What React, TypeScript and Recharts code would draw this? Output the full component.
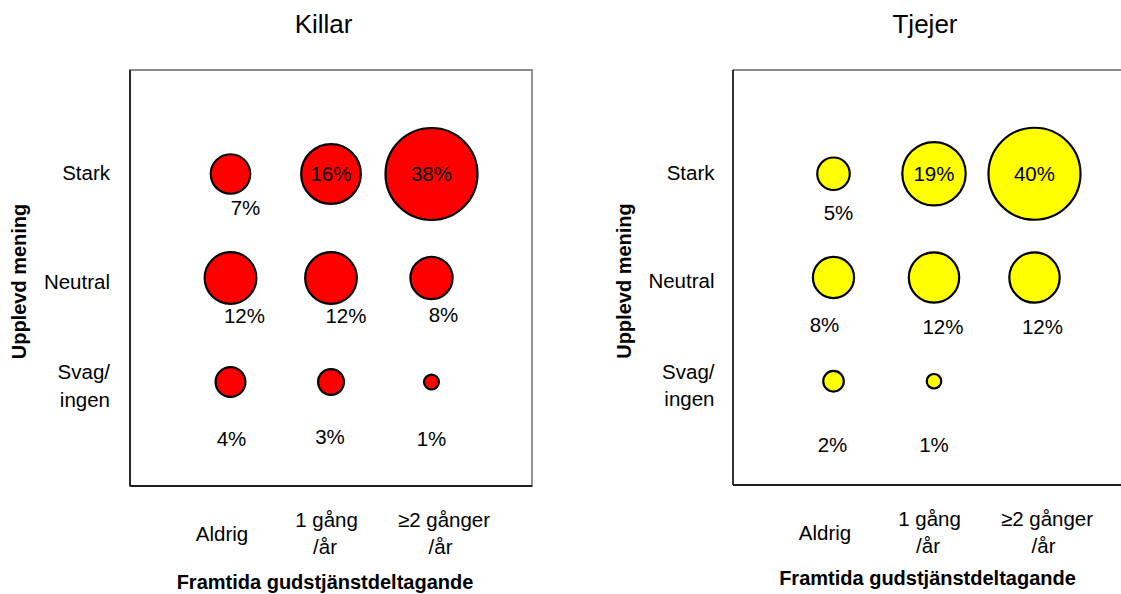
import React from 'react';
import { ScatterChart, Scatter, XAxis, YAxis, ZAxis, ReferenceArea, ReferenceLine } from 'recharts';

const FONT = '"Liberation Sans", Arial, Helvetica, sans-serif';

// Categories
const columns = ['Aldrig', '1 gång /år', '≥2 gånger /år'];
const rowNames = ['Svag/ingen', 'Neutral', 'Stark'];
const xTickLines = [['Aldrig'], ['1 gång', '/år'], ['≥2 gånger', '/år']];
const yTickLines = [['Svag/', 'ingen'], ['Neutral'], ['Stark']];

// Killar (%), per row, columns: Aldrig, 1 gång/år, ≥2 gånger/år
const killarStark = [7, 16, 38];
const killarNeutral = [12, 12, 8];
const killarSvag = [4, 3, 1];

// Tjejer (%)
const tjejerStark = [5, 19, 40];
const tjejerNeutral = [8, 12, 12];
const tjejerSvag = [2, 1, 0];

// Titles
const panelTitles = ['Killar', 'Tjejer'];
const yTitle = 'Upplevd mening';
const xTitle = 'Framtida gudstjänstdeltagande';

// label styling (offsets of the % text from the bubble centre), rows: Svag, Neutral, Stark
const killarLabelOffsets = [
  [[1, 57], [-1, 55], [0, 57]],
  [[14, 38], [15, 38], [12, 37]],
  [[15, 34], [0, 0], [0, 0]],
];
const tjejerLabelOffsets = [
  [[-1, 63], [0, 63], [0, 0]],
  [[-9, 47], [9, 49], [8, 49]],
  [[5, 39], [0, 0], [0, 0]],
];

function buildData(svag: number[], neutral: number[], stark: number[]) {
  const rowsV = [svag, neutral, stark];
  const out: any[] = [];
  rowsV.forEach((vals, r) =>
    vals.forEach((v, c) => {
      if (v > 0) out.push({ x: c + 1, y: r + 1, z: v, row: r, col: c, rowName: rowNames[r], colName: columns[c] });
    })
  );
  return out;
}

const killarData = buildData(killarSvag, killarNeutral, killarStark);
const tjejerData = buildData(tjejerSvag, tjejerNeutral, tjejerStark);

const LABEL_SIZE = 20.5;
const TICK_SIZE = 20.5;

const makeShape = (fill: string, offsets: number[][][]) => (props: any) => {
  const { cx, cy, width, size, payload } = props;
  const r = Number.isFinite(width) ? width / 2 : Math.sqrt((size || 0) / Math.PI);
  const [dx, dy] = offsets[payload.row][payload.col];
  return (
    <g>
      <circle cx={cx} cy={cy} r={r} fill={fill} stroke="#000" strokeWidth={2.2} />
      <text
        x={cx + dx}
        y={cy + dy + LABEL_SIZE * 0.358}
        textAnchor="middle"
        fontSize={LABEL_SIZE}
        fontFamily={FONT}
        fill="#000"
      >
        {payload.z}%
      </text>
    </g>
  );
};

const xTickDx = [[-8.5], [-4.5, -6], [12.5, 9]];
const renderXTick = (props: any) => {
  const { x, y, payload } = props;
  const i = Math.round(payload.value) - 1;
  const lines = xTickLines[i] || [];
  const single = lines.length === 1;
  return (
    <g>
      {lines.map((t, k) => (
        <text
          key={k}
          x={x + xTickDx[i][k]}
          y={y + (single ? 54.5 : k === 0 ? 41 : 68)}
          textAnchor="middle"
          fontSize={TICK_SIZE}
          fontFamily={FONT}
          fill="#000"
        >
          {t}
        </text>
      ))}
    </g>
  );
};

const makeYTick = (gap: number) => (props: any) => {
  const { x, y, payload } = props;
  const i = Math.round(payload.value) - 1;
  const lines = yTickLines[i] || [];
  const single = lines.length === 1;
  const base = i === 2 ? 6 : 10.5;
  return (
    <g>
      {lines.map((t, k) => (
        <text
          key={k}
          x={x - gap}
          y={y + (single ? base : k === 0 ? -2.7 : 24.7)}
          textAnchor="end"
          fontSize={TICK_SIZE}
          fontFamily={FONT}
          fill="#000"
        >
          {t}
        </text>
      ))}
    </g>
  );
};

function Panel(p: {
  left: number;
  width: number;
  yAxisWidth: number;
  xAxisHeight: number;
  marginRight: number;
  data: any[];
  fill: string;
  offsets: number[][][];
  maxZ: number;
  yGap: number;
  fullFrame: boolean;
}) {
  return (
    <div style={{ position: 'absolute', left: p.left, top: 0, width: p.width, height: 594 }}>
      <ScatterChart width={p.width} height={594} margin={{ top: 70, right: p.marginRight, bottom: 0, left: 0 }}>
        {p.fullFrame ? (
          <ReferenceArea
            xAxisId="b"
            yAxisId="l"
            x1={0}
            x2={4}
            y1={0}
            y2={4}
            fill="none"
            fillOpacity={0}
            stroke="#8a8a8a"
            strokeWidth={1.8}
          />
        ) : (
          <ReferenceLine
            xAxisId="b"
            yAxisId="l"
            segment={[
              { x: 0, y: 4 },
              { x: 3.95, y: 4 },
            ]}
            stroke="#8a8a8a"
            strokeWidth={1.8}
          />
        )}
        <XAxis
          xAxisId="b"
          type="number"
          dataKey="x"
          domain={[0, 4]}
          ticks={[1, 2, 3]}
          interval={0}
          orientation="bottom"
          height={p.xAxisHeight}
          tickLine={false}
          tickSize={0}
          tickMargin={0}
          axisLine={{ stroke: '#1e1e1e', strokeWidth: 1.8 }}
          tick={renderXTick}
        />
        <YAxis
          yAxisId="l"
          type="number"
          dataKey="y"
          domain={[0, 4]}
          ticks={[1, 2, 3]}
          interval={0}
          orientation="left"
          width={p.yAxisWidth}
          tickLine={false}
          tickSize={0}
          tickMargin={0}
          axisLine={{ stroke: '#1e1e1e', strokeWidth: 1.8 }}
          tick={makeYTick(p.yGap)}
        />
        <ZAxis zAxisId="z" type="number" dataKey="z" domain={[0, p.maxZ]} range={[0, Math.PI * 46 * 46]} />
        <Scatter
          xAxisId="b"
          yAxisId="l"
          zAxisId="z"
          data={p.data}
          shape={makeShape(p.fill, p.offsets)}
          isAnimationActive={false}
        />
      </ScatterChart>
    </div>
  );
}

export default function App() {
  return (
    <div
      style={{
        position: 'absolute',
        left: 0,
        top: 0,
        width: 1121,
        height: 594,
        overflow: 'hidden',
        background: '#fff',
        fontFamily: FONT,
      }}
    >
      <Panel
        left={0}
        width={560}
        yAxisWidth={130}
        xAxisHeight={108}
        marginRight={28}
        data={killarData}
        fill="#ff0000"
        offsets={killarLabelOffsets}
        maxZ={Math.max(...killarStark, ...killarNeutral, ...killarSvag)}
        yGap={20}
        fullFrame={true}
      />
      <Panel
        left={560}
        width={600}
        yAxisWidth={173}
        xAxisHeight={109}
        marginRight={25}
        data={tjejerData}
        fill="#ffff00"
        offsets={tjejerLabelOffsets}
        maxZ={Math.max(...tjejerStark, ...tjejerNeutral, ...tjejerSvag)}
        yGap={18.5}
        fullFrame={false}
      />
      <svg
        width={1121}
        height={594}
        style={{ position: 'absolute', left: 0, top: 0, pointerEvents: 'none' }}
      >
        <text x={323.6} y={33} textAnchor="middle" fontSize={26} fontFamily={FONT} fill="#000">
          {panelTitles[0]}
        </text>
        <text x={925} y={33} textAnchor="middle" fontSize={26} fontFamily={FONT} fill="#000">
          {panelTitles[1]}
        </text>
        <text
          x={26}
          y={281.5}
          transform="rotate(-90 26 281.5)"
          textAnchor="middle"
          fontSize={20}
          fontWeight="bold"
          fontFamily={FONT}
          fill="#000"
        >
          {yTitle}
        </text>
        <text
          x={631}
          y={281}
          transform="rotate(-90 631 281)"
          textAnchor="middle"
          fontSize={20}
          fontWeight="bold"
          fontFamily={FONT}
          fill="#000"
        >
          {yTitle}
        </text>
        <text x={325} y={589} textAnchor="middle" fontSize={20} fontWeight="bold" fontFamily={FONT} fill="#000">
          {xTitle}
        </text>
        <text x={927.5} y={585} textAnchor="middle" fontSize={20} fontWeight="bold" fontFamily={FONT} fill="#000">
          {xTitle}
        </text>
      </svg>
    </div>
  );
}
